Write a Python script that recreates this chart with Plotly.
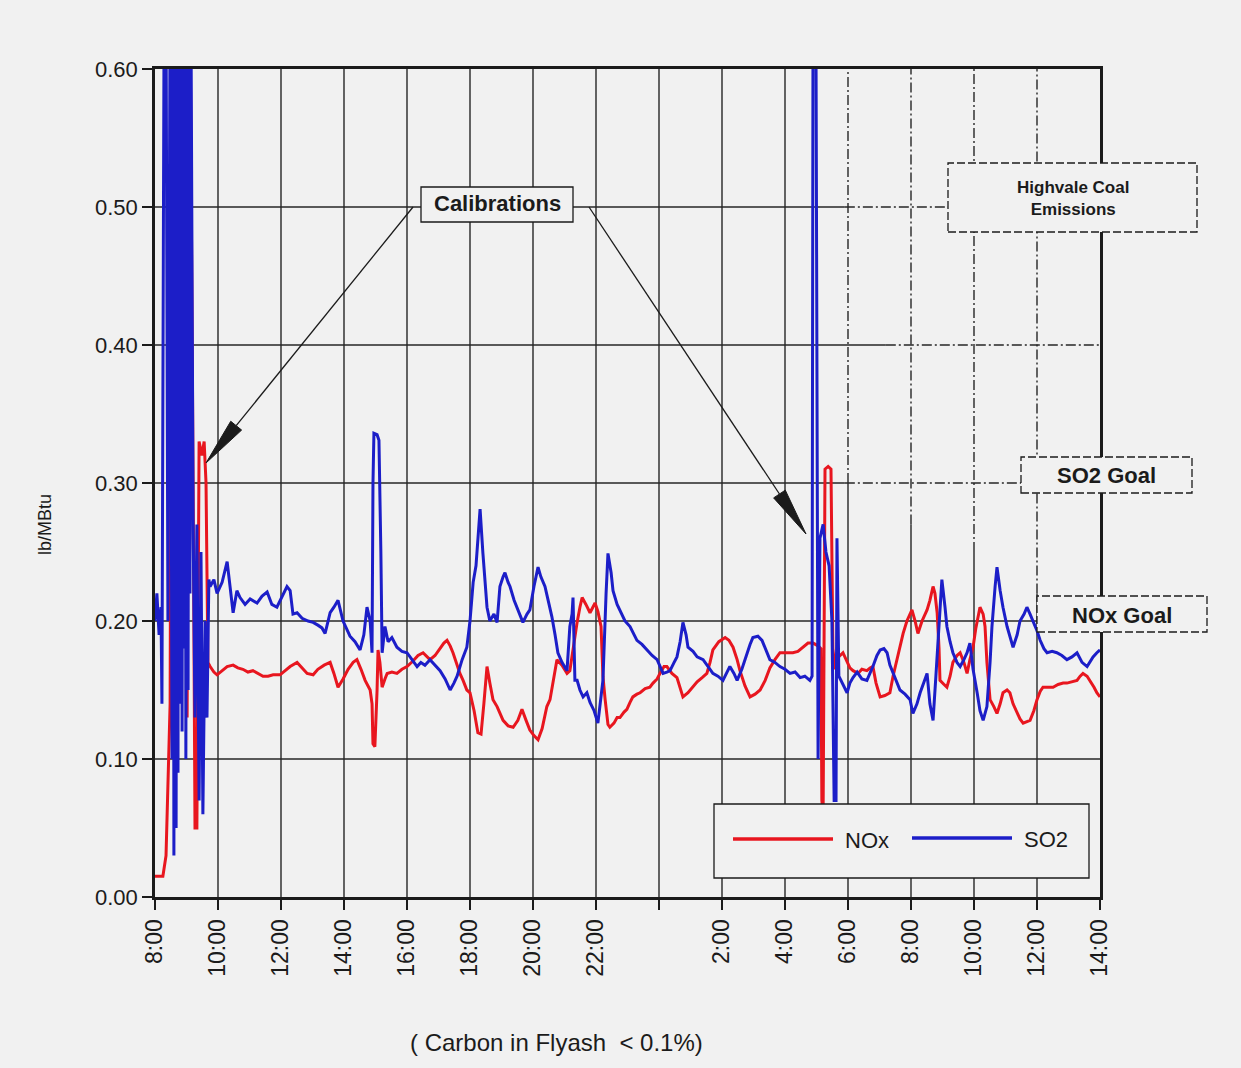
import plotly.graph_objects as go

# ---------------- data (hours counted from midnight of day 1; 24+ = next day) ----------------
so2_hours = [8.00, 8.06, 8.13, 8.19, 8.22, 8.29, 8.35, 8.41, 8.48, 8.54, 8.57, 8.60, 8.63, 8.67, 8.70,
             8.73, 8.76, 8.79, 8.83, 8.86, 8.89, 8.92, 8.95, 8.98, 9.02, 9.05, 9.08, 9.11, 9.14, 9.21,
             9.27, 9.33, 9.40, 9.46, 9.52, 9.59, 9.65, 9.71,
             9.75, 9.87, 9.97, 10.13, 10.29, 10.38, 10.48, 10.60, 10.70, 10.86, 11.02, 11.24, 11.40,
             11.56, 11.71, 11.87, 12.03, 12.19, 12.29, 12.38, 12.51, 12.67, 12.86, 13.02, 13.17, 13.30,
             13.40, 13.56, 13.68, 13.81, 13.97, 14.10, 14.19, 14.35, 14.51, 14.63, 14.73, 14.83, 14.89,
             14.92, 14.95, 15.05, 15.11, 15.17, 15.21, 15.30, 15.40, 15.52, 15.68, 15.84, 16.00, 16.16,
             16.32, 16.44, 16.57, 16.73, 16.89, 17.05, 17.21, 17.37, 17.49, 17.59, 17.75, 17.90, 18.00,
             18.10, 18.19, 18.32, 18.41, 18.54, 18.63, 18.76, 18.86, 18.95, 19.05, 19.11, 19.21, 19.27,
             19.40, 19.49, 19.59, 19.68, 19.81, 19.90, 20.03, 20.16, 20.25, 20.38, 20.51, 20.60, 20.70,
             20.79, 20.92, 21.08, 21.17, 21.24, 21.27, 21.33, 21.40, 21.49, 21.59, 21.71, 21.81, 21.94,
             22.06, 22.13, 22.22, 22.32, 22.38, 22.48, 22.54, 22.67, 22.76, 22.92, 23.08, 23.21, 23.30,
             23.46, 23.62, 23.78, 23.94, 24.03, 24.13, 24.25, 24.35, 24.48, 24.57, 24.67, 24.76, 24.86,
             24.92, 25.08, 25.21, 25.40, 25.56, 25.71, 25.87, 26.03, 26.16, 26.25, 26.38, 26.48, 26.63,
             26.79, 26.89, 26.98, 27.14, 27.27, 27.40, 27.52, 27.68, 27.84, 28.00, 28.16, 28.32, 28.48,
             28.63, 28.79,
             28.86, 28.89, 28.98, 29.05, 29.11, 29.21, 29.30, 29.40, 29.49, 29.56, 29.62, 29.65, 29.71,
             29.81, 29.97, 30.06, 30.16, 30.29, 30.44, 30.60, 30.70, 30.79, 30.92, 31.02, 31.14, 31.24,
             31.33, 31.43, 31.56, 31.65, 31.81, 31.97, 32.06, 32.19, 32.29, 32.41, 32.51, 32.60, 32.70,
             32.79, 32.86, 32.92, 32.98, 33.08, 33.14, 33.24, 33.33, 33.46, 33.56, 33.68, 33.78, 33.87,
             33.97, 34.10, 34.19, 34.29, 34.41, 34.51, 34.57, 34.67, 34.73, 34.83, 34.92, 35.05, 35.14,
             35.24, 35.37, 35.46, 35.59, 35.68, 35.78, 35.87, 36.00, 36.10, 36.22, 36.32, 36.48, 36.63,
             36.79, 36.95, 37.11, 37.27, 37.43, 37.59, 37.68, 37.78, 37.90, 38.00]
so2_values = [0.20, 0.22, 0.19, 0.21, 0.14, 0.65, 0.65, 0.20, 0.65, 0.10, 0.65, 0.03, 0.65, 0.05, 0.65,
              0.09, 0.65, 0.14, 0.65, 0.12, 0.65, 0.18, 0.65, 0.10, 0.65, 0.15, 0.65, 0.22, 0.65, 0.27,
              0.13, 0.27, 0.07, 0.25, 0.06, 0.20, 0.13, 0.23,
              0.225, 0.230, 0.220, 0.228, 0.243, 0.225, 0.206, 0.222, 0.217, 0.212, 0.216, 0.213, 0.218,
              0.221, 0.212, 0.210, 0.218, 0.225, 0.222, 0.205, 0.206, 0.202, 0.200, 0.199, 0.197, 0.195,
              0.191, 0.206, 0.210, 0.215, 0.200, 0.193, 0.189, 0.185, 0.179, 0.190, 0.210, 0.200, 0.177,
              0.300, 0.336, 0.335, 0.331, 0.250, 0.177, 0.196, 0.185, 0.188, 0.181, 0.178, 0.177, 0.172,
              0.167, 0.170, 0.168, 0.172, 0.168, 0.164, 0.158, 0.150, 0.155, 0.160, 0.172, 0.181, 0.200,
              0.228, 0.240, 0.281, 0.249, 0.210, 0.200, 0.205, 0.199, 0.225, 0.232, 0.235, 0.228, 0.225,
              0.215, 0.210, 0.203, 0.199, 0.205, 0.208, 0.225, 0.239, 0.232, 0.225, 0.212, 0.203, 0.190,
              0.177, 0.170, 0.164, 0.196, 0.205, 0.217, 0.157, 0.157, 0.150, 0.145, 0.148, 0.141, 0.135,
              0.126, 0.140, 0.157, 0.220, 0.249, 0.235, 0.222, 0.212, 0.208, 0.200, 0.196, 0.190, 0.186,
              0.183, 0.179, 0.175, 0.172, 0.167, 0.162, 0.163, 0.164, 0.170, 0.174, 0.185, 0.199, 0.190,
              0.181, 0.178, 0.174, 0.172, 0.167, 0.162, 0.160, 0.157, 0.163, 0.167, 0.162, 0.157, 0.165,
              0.177, 0.183, 0.188, 0.189, 0.186, 0.178, 0.172, 0.170, 0.167, 0.165, 0.162, 0.163, 0.159,
              0.160, 0.157,
              0.160, 0.650, 0.650, 0.100, 0.260, 0.270, 0.250, 0.240, 0.200, 0.070, 0.070, 0.260, 0.160,
              0.155, 0.148, 0.155, 0.159, 0.163, 0.158, 0.157, 0.162, 0.167, 0.175, 0.179, 0.180, 0.177,
              0.168, 0.162, 0.155, 0.150, 0.147, 0.143, 0.133, 0.140, 0.148, 0.155, 0.162, 0.140, 0.128,
              0.160, 0.186, 0.210, 0.230, 0.210, 0.196, 0.185, 0.177, 0.170, 0.167, 0.172, 0.177, 0.184,
              0.165, 0.148, 0.135, 0.128, 0.138, 0.170, 0.196, 0.225, 0.239, 0.222, 0.210, 0.196, 0.188,
              0.181, 0.190, 0.200, 0.205, 0.210, 0.205, 0.200, 0.193, 0.186, 0.180, 0.177, 0.178, 0.177,
              0.175, 0.172, 0.174, 0.177, 0.170, 0.167, 0.170, 0.174, 0.177, 0.179]

nox_hours = [8.00, 8.25, 8.35, 8.41, 8.48, 8.54, 8.60, 8.67, 8.73, 8.83, 8.92, 9.02, 9.11, 9.21, 9.27,
             9.33, 9.40, 9.49, 9.56, 9.62, 9.68,
             9.75, 9.87, 9.97, 10.13, 10.29, 10.48, 10.63, 10.79, 10.95, 11.11, 11.27, 11.43, 11.59,
             11.75, 11.97, 12.13, 12.29, 12.51, 12.67, 12.83, 13.02, 13.17, 13.37, 13.56, 13.68, 13.81,
             13.97, 14.13, 14.29, 14.41, 14.54, 14.67, 14.83, 14.89, 14.92, 14.98, 15.05, 15.08, 15.14,
             15.21, 15.30, 15.37, 15.52, 15.68, 15.84, 16.00, 16.19, 16.35, 16.51, 16.63, 16.73, 16.89,
             17.05, 17.17, 17.27, 17.37, 17.46, 17.59, 17.68, 17.78, 17.90, 18.00, 18.13, 18.25, 18.35,
             18.44, 18.54, 18.63, 18.73, 18.86, 19.05, 19.21, 19.37, 19.52, 19.65, 19.78, 19.90, 20.03,
             20.16, 20.29, 20.44, 20.54, 20.67, 20.76, 20.92, 21.08, 21.17, 21.33, 21.40, 21.49, 21.56,
             21.68, 21.81, 21.97, 22.06, 22.16, 22.22, 22.29, 22.38, 22.44, 22.57, 22.67, 22.76, 22.89,
             22.98, 23.08, 23.17, 23.30, 23.40, 23.56, 23.71, 23.81, 23.94, 24.03, 24.16, 24.25, 24.41,
             24.57, 24.67, 24.76, 24.92, 25.08, 25.21, 25.37, 25.52, 25.62, 25.71, 25.90, 26.10, 26.22,
             26.35, 26.48, 26.57, 26.73, 26.89, 27.05, 27.21, 27.37, 27.52, 27.68, 27.84, 28.03, 28.25,
             28.41, 28.57, 28.73, 28.89, 29.05, 29.14,
             29.17, 29.21, 29.27, 29.37, 29.46, 29.52, 29.59,
             29.65, 29.75, 29.84, 29.97, 30.06, 30.16, 30.32, 30.44, 30.60, 30.70, 30.79, 30.89, 31.02,
             31.17, 31.33, 31.43, 31.56, 31.65, 31.75, 31.87, 32.03, 32.13, 32.22, 32.35, 32.51, 32.60,
             32.70, 32.76, 32.83, 32.89, 32.92, 33.05, 33.14, 33.24, 33.33, 33.46, 33.56, 33.68, 33.78,
             33.87, 33.97, 34.06, 34.19, 34.29, 34.35, 34.41, 34.51, 34.63, 34.73, 34.83, 34.92, 35.05,
             35.14, 35.24, 35.37, 35.46, 35.56, 35.68, 35.78, 35.90, 36.00, 36.10, 36.19, 36.35, 36.51,
             36.67, 36.83, 36.95, 37.11, 37.27, 37.37, 37.46, 37.59, 37.68, 37.81, 37.90, 38.00]
nox_values = [0.015, 0.015, 0.030, 0.090, 0.140, 0.650, 0.650, 0.200, 0.650, 0.150, 0.650, 0.130, 0.650,
              0.300, 0.050, 0.050, 0.330, 0.320, 0.330, 0.300, 0.170,
              0.167, 0.163, 0.161, 0.164, 0.167, 0.168, 0.166, 0.165, 0.163, 0.164, 0.162, 0.160, 0.160,
              0.161, 0.161, 0.164, 0.167, 0.170, 0.166, 0.162, 0.161, 0.165, 0.168, 0.170, 0.162, 0.152,
              0.158, 0.165, 0.170, 0.172, 0.165, 0.157, 0.150, 0.140, 0.111, 0.109, 0.150, 0.179, 0.170,
              0.152, 0.158, 0.162, 0.163, 0.162, 0.165, 0.167, 0.171, 0.175, 0.177, 0.174, 0.172, 0.175,
              0.180, 0.184, 0.186, 0.182, 0.177, 0.168, 0.162, 0.157, 0.150, 0.148, 0.135, 0.119, 0.118,
              0.140, 0.167, 0.155, 0.143, 0.138, 0.128, 0.124, 0.123, 0.128, 0.136, 0.128, 0.121, 0.117,
              0.114, 0.122, 0.138, 0.143, 0.160, 0.172, 0.168, 0.162, 0.164, 0.191, 0.199, 0.210, 0.217,
              0.212, 0.206, 0.213, 0.207, 0.196, 0.160, 0.143, 0.125, 0.123, 0.126, 0.130, 0.130, 0.134,
              0.136, 0.141, 0.145, 0.147, 0.148, 0.151, 0.152, 0.155, 0.158, 0.162, 0.167, 0.167, 0.162,
              0.159, 0.152, 0.145, 0.148, 0.152, 0.156, 0.159, 0.162, 0.170, 0.179, 0.185, 0.188, 0.186,
              0.181, 0.172, 0.164, 0.153, 0.145, 0.147, 0.150, 0.157, 0.166, 0.172, 0.177, 0.177, 0.177,
              0.178, 0.181, 0.184, 0.184, 0.182, 0.180,
              0.070, 0.060, 0.310, 0.312, 0.310, 0.180, 0.165,
              0.177, 0.175, 0.177, 0.170, 0.166, 0.164, 0.162, 0.165, 0.164, 0.166, 0.167, 0.155, 0.145,
              0.146, 0.148, 0.160, 0.172, 0.182, 0.191, 0.200, 0.208, 0.200, 0.191, 0.200, 0.208, 0.215,
              0.225, 0.220, 0.206, 0.180, 0.157, 0.154, 0.152, 0.160, 0.170, 0.175, 0.177, 0.170, 0.162,
              0.172, 0.181, 0.195, 0.210, 0.205, 0.196, 0.170, 0.143, 0.138, 0.133, 0.140, 0.148, 0.150,
              0.148, 0.140, 0.133, 0.129, 0.126, 0.127, 0.128, 0.135, 0.143, 0.149, 0.152, 0.152, 0.152,
              0.154, 0.155, 0.155, 0.156, 0.157, 0.160, 0.162, 0.160, 0.157, 0.152, 0.148, 0.145]

tick_hours = [8, 10, 12, 14, 16, 18, 20, 22, 24, 26, 28, 30, 32, 34, 36, 38]
tick_labels = ["8:00", "10:00", "12:00", "14:00", "16:00", "18:00", "20:00", "22:00", "",
               "2:00", "4:00", "6:00", "8:00", "10:00", "12:00", "14:00"]
y_ticks = [0.0, 0.1, 0.2, 0.3, 0.4, 0.5, 0.6]
series_names = ["NOx", "SO2"]
series_colors = ["#e8161f", "#1c1ec8"]

# ---------------- layout geometry ----------------
W, H = 1241, 1068
L, R, T, B = 155, 141, 69, 171
PW, PH = W - L - R, H - T - B
BG = "#f1f1f1"
INK = "#1b1b1b"
FONT = "Liberation Sans, Arial, sans-serif"


def px(xp):
    return (xp - L) / PW


def py(yp):
    return (H - B - yp) / PH


fig = go.Figure()
fig.add_trace(go.Scatter(x=nox_hours, y=nox_values, mode="lines", name=series_names[0],
                         line=dict(color=series_colors[0], width=3)))
fig.add_trace(go.Scatter(x=so2_hours, y=so2_values, mode="lines", name=series_names[1],
                         line=dict(color=series_colors[1], width=3)))

shapes = []
DASHDOT = "10px,3px,2px,3px"
grid_line = dict(color="#262626", width=1.4)
# vertical grid (upper part of right-hand lines printed dash-dot in the original)
v_dash_from = {30: 0.30, 32: 0.27, 34: 0.25, 36: 0.22}
for h in tick_hours[1:-1]:
    if h in v_dash_from:
        s = v_dash_from[h]
        shapes.append(dict(type="line", xref="x", yref="y", x0=h, x1=h, y0=0, y1=s,
                           line=grid_line, layer="below"))
        shapes.append(dict(type="line", xref="x", yref="y", x0=h, x1=h, y0=s, y1=0.6,
                           line=dict(grid_line, dash=DASHDOT), layer="below"))
    else:
        shapes.append(dict(type="line", xref="x", yref="y", x0=h, x1=h, y0=0, y1=0.6,
                           line=grid_line, layer="below"))
h_dash_from = {0.5: 29.9, 0.4: 31.2, 0.3: 29.9}
for v in y_ticks[1:-1]:
    if v in h_dash_from:
        s = h_dash_from[v]
        shapes.append(dict(type="line", xref="x", yref="y", x0=8, x1=s, y0=v, y1=v,
                           line=grid_line, layer="below"))
        shapes.append(dict(type="line", xref="x", yref="y", x0=s, x1=38, y0=v, y1=v,
                           line=dict(grid_line, dash=DASHDOT), layer="below"))
    else:
        shapes.append(dict(type="line", xref="x", yref="y", x0=8, x1=38, y0=v, y1=v,
                           line=grid_line, layer="below"))


def box(x0, y0, x1, y1, dash="solid"):
    shapes.append(dict(type="rect", xref="paper", yref="paper",
                       x0=px(x0), x1=px(x1), y0=py(y1), y1=py(y0),
                       fillcolor=BG, line=dict(color=INK, width=1.3, dash=dash), layer="above"))


def arrow(tail, tip, head_len=48, half_w=7):
    (x0, y0), (x1, y1) = tail, tip
    dx, dy = x0 - x1, y0 - y1
    d = (dx * dx + dy * dy) ** 0.5
    ux, uy = dx / d, dy / d
    bx, by = x1 + ux * head_len, y1 + uy * head_len
    nx, ny = -uy, ux
    shapes.append(dict(type="line", xref="paper", yref="paper",
                       x0=px(x0), y0=py(y0), x1=px(bx), y1=py(by),
                       line=dict(color=INK, width=1.3), layer="above"))
    path = (f"M {px(x1)},{py(y1)} L {px(bx + nx * half_w)},{py(by + ny * half_w)} "
            f"L {px(bx - nx * half_w)},{py(by - ny * half_w)} Z")
    shapes.append(dict(type="path", xref="paper", yref="paper", path=path,
                       fillcolor=INK, line=dict(color=INK, width=1), layer="above"))


box(421, 187, 573, 222)
box(948, 163, 1197, 232, dash="8px,3px")
box(1021, 457, 1192, 493, dash="8px,3px")
box(1037, 596, 1207, 632, dash="8px,3px")
box(714, 804, 1089, 878)
arrow((413, 207), (206, 463))
arrow((589, 207), (806, 534))
# manual legend samples
for (lx0, lx1, ly), col in zip([(733, 833, 839), (912, 1012, 838)], series_colors):
    shapes.append(dict(type="line", xref="paper", yref="paper", x0=px(lx0), x1=px(lx1),
                       y0=py(ly), y1=py(ly), line=dict(color=col, width=3.5), layer="above"))

annotations = [
    dict(text="<b>Calibrations</b>", x=px(497), y=py(204), font=dict(size=22)),
    dict(text="<b>Highvale Coal</b><br><b>Emissions</b>", x=px(1073), y=py(198),
         font=dict(size=17)),
    dict(text="<b>SO2 Goal</b>", x=px(1106), y=py(476), font=dict(size=22)),
    dict(text="<b>NOx Goal</b>", x=px(1122), y=py(615), font=dict(size=22)),
    dict(text=series_names[0], x=px(843), y=py(840), xanchor="left", font=dict(size=22)),
    dict(text=series_names[1], x=px(1022), y=py(839), xanchor="left", font=dict(size=22)),
    dict(text="lb/MBtu", x=px(45), y=py(525), textangle=-90, font=dict(size=18)),
    dict(text="( Carbon in Flyash &nbsp;&lt; 0.1%)", x=px(556), y=py(1042),
         font=dict(size=24, family="Liberation Sans Narrow, Arial Narrow, Liberation Sans, sans-serif")),
]
for a in annotations:
    a.update(xref="paper", yref="paper", showarrow=False, yanchor="middle")
    a.setdefault("xanchor", "center")
    a["font"] = dict(dict(family=FONT, color=INK), **a["font"])

fig.update_layout(
    width=W, height=H, autosize=False,
    margin=dict(l=L, r=R, t=T, b=B, pad=0),
    paper_bgcolor=BG, plot_bgcolor=BG,
    showlegend=False,
    font=dict(family=FONT, color=INK),
    shapes=shapes, annotations=annotations,
    xaxis=dict(range=[8, 38], tickvals=tick_hours, ticktext=tick_labels, tickangle=-90,
               showgrid=False, zeroline=False, ticks="outside", ticklen=10, tickwidth=1.5,
               tickcolor=INK, showline=True, linecolor=INK, linewidth=3, mirror=True,
               tickfont=dict(size=23, color=INK)),
    yaxis=dict(range=[0, 0.6], tickvals=y_ticks, tickformat=".2f", showgrid=False,
               zeroline=False, ticks="outside", ticklen=10, tickwidth=1.5, tickcolor=INK,
               showline=True, linecolor=INK, linewidth=2.5, mirror=True,
               tickfont=dict(size=22, color=INK)),
)

fig.write_html("out.html",
               config={"displayModeBar": False},
               post_script="document.body.style.margin='0px';"
                           "document.body.style.background='" + BG + "';")
